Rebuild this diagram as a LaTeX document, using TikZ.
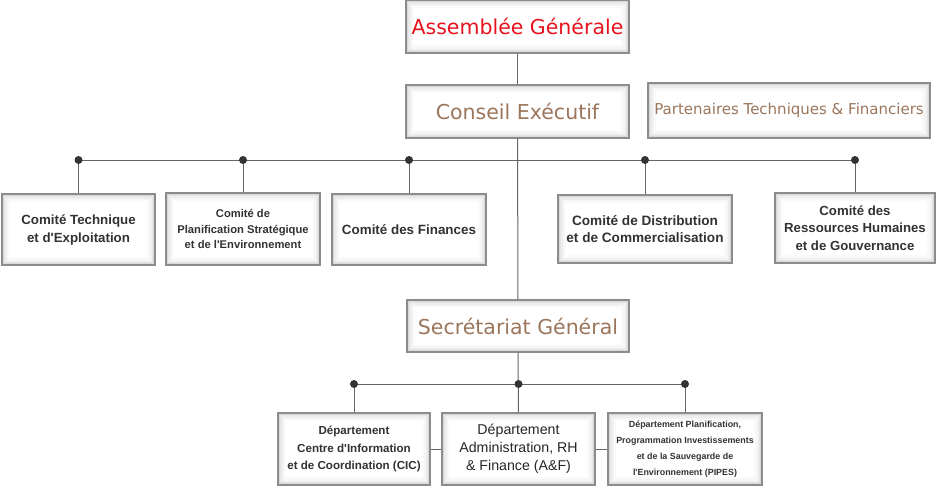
\documentclass[tikz,border=0pt]{standalone}
\usepackage{fontspec}
\usepackage{xcolor}
\usepackage{tikz}
\usetikzlibrary{
    positioning,
    calc
}
\newfontfamily\titlefont{DejaVu Sans}
\newfontfamily\boxfont{Liberation Sans}
\definecolor{orgRed}{RGB}{232, 18, 30}
\definecolor{orgBrown}{RGB}{155, 118, 92}
\definecolor{orgText}{RGB}{50, 50, 50}
\definecolor{orgLine}{RGB}{100, 100, 100}
\tikzset{
    orgbox/.style={draw=gray!90, line width=1.4pt, fill=white, align=center,
        inner sep=2pt,
        path picture={
            \foreach \w/\c in {16/4, 12/8, 9/13, 6/20, 3.5/30}
                \draw[gray!\c, line width=\w pt] (path picture bounding box.south west) rectangle (path picture bounding box.north east);
        }},
    titlebox/.style={orgbox, minimum width=223pt, minimum height=53pt, font=\titlefont\fontsize{20.5}{24}\selectfont, text=orgBrown},
    combox/.style={orgbox, text=orgText},
    link/.style={draw=orgLine, line width=1pt},
    dot/.style={circle, fill=black!80, inner sep=0pt, minimum size=8pt}
}
\begin{document}
\begin{tikzpicture}[x=1pt, y=-1pt]
            \useasboundingbox (0,0) rectangle (937,490);
            % direction
            \node[titlebox, text=orgRed] (ag) at (517.5,26.5) {Assemblée Générale};
            \node[titlebox] (ce) at (517.5,111.5) {Conseil Exécutif};
            \node[titlebox, minimum width=282pt, minimum height=55pt, font=\titlefont\fontsize{15}{18}\selectfont] (ptf) at (789,110.5) {Partenaires Techniques \& Financiers};
            \node[titlebox, minimum width=222pt, minimum height=52pt] (sg) at (518,326) {Secrétariat Général};
            
            % comites
            \coordinate (k1) at (78.5,160);
            \coordinate (k2) at (243,160);
            \coordinate (k3) at (409,160);
            \coordinate (k4) at (645,160);
            \coordinate (k5) at (855,160);
            
            \node[combox, minimum width=153pt, minimum height=71pt, font=\boxfont\bfseries\fontsize{13.3}{18}\selectfont] (c1) at (78.5,229.5) {Comité Technique\\et d'Exploitation};
            \node[combox, minimum width=154pt, minimum height=72pt, font=\boxfont\bfseries\fontsize{11.2}{15.5}\selectfont] (c2) at (243,229) {Comité de\\Planification Stratégique\\et de l'Environnement};
            \node[combox, minimum width=154pt, minimum height=71pt, font=\boxfont\bfseries\fontsize{13.4}{18}\selectfont] (c3) at (409,229.5) {Comité des Finances};
            \node[combox, minimum width=174pt, minimum height=68pt, font=\boxfont\bfseries\fontsize{13.6}{17}\selectfont] (c4) at (645,229) {Comité de Distribution\\et de Commercialisation};
            \node[combox, minimum width=160pt, minimum height=70pt, font=\boxfont\bfseries\fontsize{13.2}{17.5}\selectfont] (c5) at (855,228) {Comité des\\Ressources Humaines\\et de Gouvernance};
            
            % departements
            \coordinate (p1) at (354,384);
            \coordinate (p2) at (518.5,384);
            \coordinate (p3) at (685,384);
            
            \node[combox, minimum width=152pt, minimum height=72pt, font=\boxfont\bfseries\fontsize{11.6}{17.5}\selectfont] (dp1) at (354,449) {Département\\Centre d'Information\\et de Coordination (CIC)};
            \node[combox, minimum width=153pt, minimum height=72pt, text=black!85, font=\boxfont\fontsize{14.2}{18}\selectfont] (dp2) at (518.5,449) {Département\\Administration, RH\\\& Finance (A\&F)};
            \node[combox, minimum width=154pt, minimum height=72pt, font=\boxfont\bfseries\fontsize{8.9}{16}\selectfont] (dp3) at (685,449) {Département Planification,\\Programmation Investissements\\et de la Sauvegarde de\\l'Environnement (PIPES)};
            
            \draw[link] (ag) -- (ce);
            \draw[link] (ce) -- (sg);
            \draw[link] (k1) -- (k5);
            \foreach \i in {1,...,5}
                \draw[link] (k\i) -- (c\i.north);
            \draw[link] (sg) -- (dp2);
            \draw[link] (p1) -- (p3);
            \foreach \i in {1,3}
                \draw[link] (p\i) -- (dp\i.north);
            \draw[link] (dp1) -- (dp2) (dp2) -- (dp3);
            
            \foreach \i in {1,...,5}
                \node[dot] at (k\i) {};
            \foreach \i in {1,...,3}
                \node[dot] at (p\i) {};
        \end{tikzpicture}
\end{document}
